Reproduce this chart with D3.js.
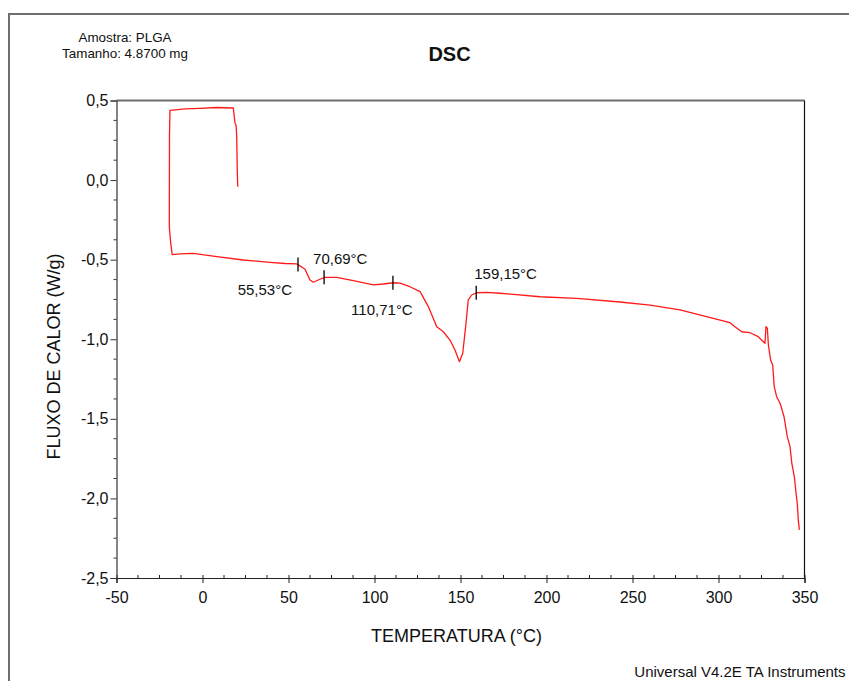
<!DOCTYPE html>
<html>
<head>
<meta charset="utf-8">
<script src="https://cdn.jsdelivr.net/npm/d3@7/dist/d3.min.js"></script>
<style>
  html, body { margin: 0; padding: 0; background: #fff; }
  svg { display: block; font-family: "Liberation Sans", Arial, sans-serif; }
</style>
</head>
<body>
<svg id="chart" width="849" height="681"></svg>
<script>
// ---- Data ----
const temperature = [
  20.5, 20.2, 19.9, 19.5, 18.9, 17.9, 8.3, -1.5, -10.2, -18.9,
  -19.2, -19.3, -18.5, -17.6, -13.1, -5.4, 8.3, 23.7, 39.2, 48.0,
  54.8, 55.7, 57.5, 59.6, 62.5, 64.4, 68.3, 71.2, 78.0, 87.7,
  99.3, 105.1, 110.9, 114.8, 120.6, 126.5, 131.3, 136.2, 140.0, 143.9,
  146.8, 149.4, 151.3, 153.2, 154.5, 156.5, 159.4, 165.2, 173.0, 196.2,
  217.6, 242.7, 260.2, 277.6, 306.7, 309.6, 313.5, 318.3, 323.1, 327.0,
  327.6, 328.4, 329.0, 330.3, 331.5, 332.4, 333.8, 335.8, 338.1, 340.0,
  341.6, 342.6, 344.1, 345.1, 345.8, 346.4, 347.0
];
const heatFlow = [
  -0.042, 0.063, 0.273, 0.346, 0.359, 0.453, 0.456, 0.451, 0.447, 0.438,
  0.283, -0.293, -0.395, -0.468, -0.464, -0.460, -0.481, -0.502, -0.517, -0.524,
  -0.527, -0.533, -0.545, -0.560, -0.628, -0.642, -0.623, -0.611, -0.611, -0.632,
  -0.659, -0.653, -0.645, -0.648, -0.670, -0.701, -0.795, -0.921, -0.953, -1.005,
  -1.068, -1.141, -1.088, -0.900, -0.753, -0.722, -0.708, -0.705, -0.711, -0.733,
  -0.743, -0.766, -0.785, -0.816, -0.896, -0.921, -0.953, -0.959, -0.984, -1.025,
  -0.921, -0.931, -1.036, -1.130, -1.162, -1.298, -1.361, -1.402, -1.487, -1.612,
  -1.675, -1.779, -1.864, -1.968, -2.031, -2.136, -2.198
];
const markerTemps = [55.53, 70.69, 110.71, 159.15];
const markerFlows = [-0.530, -0.611, -0.645, -0.708];
const markerLabels = ["55,53°C", "70,69°C", "110,71°C", "159,15°C"];
const xTicks = [-50, 0, 50, 100, 150, 200, 250, 300, 350];
const xTickLabels = ["-50", "0", "50", "100", "150", "200", "250", "300", "350"];
const yTicks = [0.5, 0.0, -0.5, -1.0, -1.5, -2.0, -2.5];
const yTickLabels = ["0,5", "0,0", "-0,5", "-1,0", "-1,5", "-2,0", "-2,5"];
const titleText = "DSC";
const sampleLines = ["Amostra: PLGA", "Tamanho: 4.8700 mg"];
const xTitle = "TEMPERATURA (°C)";
const yTitle = "FLUXO DE CALOR (W/g)";
const footer = "Universal V4.2E TA Instruments";

// ---- Layout ----
const L = 116.5, R = 804.5, T = 100.5, B = 578;
const svg = d3.select("#chart");

const x = d3.scaleLinear().domain([-50, 350]).range([L, R]);
const y = d3.scaleLinear().domain([-2.5, 0.5]).range([B, T]);

// outer frame
svg.append("rect").attr("x", 9).attr("y", 14).attr("width", 1000).attr("height", 1000)
  .attr("fill", "none").attr("stroke", "#6e6e6e").attr("stroke-width", 2);

// plot frame: top gray, right black
svg.append("line").attr("x1", L).attr("x2", R).attr("y1", T).attr("y2", T)
  .attr("stroke", "#6e6e6e").attr("stroke-width", 2);
svg.append("line").attr("x1", R).attr("x2", R).attr("y1", T).attr("y2", B)
  .attr("stroke", "#111").attr("stroke-width", 1.2);

// x axis
const xAxis = d3.axisBottom(x).tickValues(xTicks).tickSize(5).tickPadding(9)
  .tickFormat((d, i) => xTickLabels[i]);
const gx = svg.append("g").attr("transform", `translate(0,${B})`).call(xAxis);
gx.select(".domain").attr("stroke", "#222").attr("stroke-width", 1.2);
gx.selectAll(".tick line").attr("stroke", "#222").attr("y1", -3);
gx.selectAll(".tick text").attr("font-size", 16).attr("fill", "#111")
  .attr("font-family", "Liberation Sans, Arial, sans-serif");
const xMinor = d3.range(-50, 350.01, 12.5).filter(v => v % 50 !== 0);
gx.selectAll(".minor").data(xMinor).enter().append("line")
  .attr("x1", d => x(d)).attr("x2", d => x(d)).attr("y1", 0).attr("y2", -3)
  .attr("stroke", "#222");

// y axis
const yAxis = d3.axisLeft(y).tickValues(yTicks).tickSize(6).tickPadding(2)
  .tickFormat((d, i) => yTickLabels[i]);
const gy = svg.append("g").attr("transform", `translate(${L},0)`).call(yAxis);
gy.select(".domain").attr("stroke", "#333").attr("stroke-width", 1.2);
gy.selectAll(".tick line").attr("stroke", "#333");
gy.selectAll(".tick text").attr("font-size", 16).attr("fill", "#111")
  .attr("font-family", "Liberation Sans, Arial, sans-serif");
const yMinor = d3.range(-2.5, 0.5001, 0.125).filter(v => Math.abs(v * 2 - Math.round(v * 2)) > 1e-6);
gy.selectAll(".minor").data(yMinor).enter().append("line")
  .attr("x1", 0).attr("x2", -3).attr("y1", d => y(d)).attr("y2", d => y(d))
  .attr("stroke", "#333");

// curve
const pts = temperature.map((t, i) => [t, heatFlow[i]]);
const line = d3.line().x(d => x(d[0])).y(d => y(d[1]));
svg.append("path").datum(pts).attr("d", line)
  .attr("fill", "none").attr("stroke", "#ff1a1a").attr("stroke-width", 1.3)
  .attr("stroke-linejoin", "round");

// markers
const labelOffsets = [[-6, 31, "end"], [-11, -13, "start"], [-11, 32, "middle"], [-2, -14, "start"]];
markerTemps.forEach((t, i) => {
  const px = x(t), py = y(markerFlows[i]);
  svg.append("line").attr("x1", px).attr("x2", px).attr("y1", py - 7).attr("y2", py + 7)
    .attr("stroke", "#111").attr("stroke-width", 1.4);
  svg.append("text").attr("x", px + labelOffsets[i][0]).attr("y", py + labelOffsets[i][1])
    .attr("text-anchor", labelOffsets[i][2]).attr("font-size", 15).attr("fill", "#111")
    .text(markerLabels[i]);
});

// titles
svg.append("text").attr("x", 449.5).attr("y", 61).attr("text-anchor", "middle")
  .attr("font-size", 20).attr("font-weight", "bold").attr("fill", "#111").text(titleText);
sampleLines.forEach((s, i) => {
  svg.append("text").attr("x", 125).attr("y", 42.3 + i * 15.5).attr("text-anchor", "middle")
    .attr("font-size", 13.4).attr("fill", "#111").text(s);
});
svg.append("text").attr("x", 456.5).attr("y", 642).attr("text-anchor", "middle")
  .attr("font-size", 18).attr("fill", "#111").text(xTitle);
svg.append("text").attr("transform", "translate(60,356.5) rotate(-90)")
  .attr("text-anchor", "middle").attr("font-size", 18).attr("fill", "#111").text(yTitle);
svg.append("text").attr("x", 845.5).attr("y", 677).attr("text-anchor", "end")
  .attr("font-size", 15).attr("fill", "#111").text(footer);
</script>
</body>
</html>
